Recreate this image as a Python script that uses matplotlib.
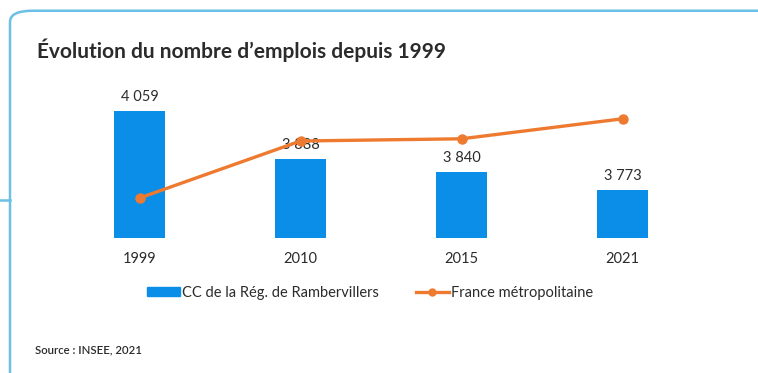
import matplotlib
matplotlib.use("Agg")
import matplotlib.pyplot as plt
from matplotlib.patches import FancyBboxPatch
from matplotlib.lines import Line2D

plt.rcParams['font.family'] = ['Lato', 'DejaVu Sans']

# Data
years = ["1999", "2010", "2015", "2021"]
emplois_cc = [4059, 3888, 3840, 3773]            # CC de la Rég. de Rambervillers
emplois_france = [22800, 25650, 25760, 26760]    # France métropolitaine (milliers)
value_labels = ["4 059", "3 888", "3 840", "3 773"]

series_cc = "CC de la Rég. de Rambervillers"
series_fr = "France métropolitaine"
title = "Évolution du nombre d\u2019emplois depuis 1999"
source = "Source : INSEE, 2021"

BLUE = "#0B8EE8"
ORANGE = "#EE7A30"
TEXT = "#2b2b2b"
FRAME = "#6CC0E5"

W, H = 758, 373
fig = plt.figure(figsize=(W / 100, H / 100), dpi=100)
fig.patch.set_facecolor("white")

def px(x0, y0, w, h):
    return [x0 / W, 1 - (y0 + h) / H, w / W, h / H]

# Card frame
frame = FancyBboxPatch((10 / W, -0.05), 1.2, (H - 10) / H + 0.05 - 0.002,
                       boxstyle="round,pad=0,rounding_size=0.03",
                       transform=fig.transFigure, fill=False,
                       edgecolor=FRAME, linewidth=1.8, zorder=0)
fig.patches.append(frame)
fig.lines.append(Line2D([0, 10 / W], [1 - 200 / H, 1 - 200 / H],
                        transform=fig.transFigure, color=FRAME, lw=1.8))

# Title
fig.text(37 / W, 1 - 50 / H, title, fontsize=15, fontweight="bold",
         color=TEXT, ha="left", va="center")

# Main axes
ax = fig.add_axes(px(59, 100, 644, 138))
x = list(range(len(years)))
ax.bar(x, emplois_cc, width=0.32, color=BLUE, zorder=2)
ax.set_xlim(-0.5, 3.5)
ax.set_ylim(3600, 4100)
for xi, v, lab in zip(x, emplois_cc, value_labels):
    ax.annotate(lab, (xi, v), xytext=(0, 10), textcoords="offset points",
                ha="center", va="center", fontsize=10.5, color=TEXT,
                annotation_clip=False, zorder=1)
ax.set_xticks(x)
ax.set_xticklabels(years, fontsize=10.5, color=TEXT)
ax.tick_params(axis="x", length=0, pad=10)
ax.set_yticks([])
for s in ax.spines.values():
    s.set_visible(False)
ax.patch.set_alpha(0)

# Secondary axis for the national series
ax2 = ax.twinx()
ax2.plot(x, emplois_france, color=ORANGE, lw=2.4, marker="o", ms=6.5,
         zorder=3)
ax2.set_ylim(20800, 27700)
ax2.set_yticks([])
for s in ax2.spines.values():
    s.set_visible(False)

# Legend
handles = [plt.Rectangle((0, 0), 1, 1, color=BLUE),
           Line2D([], [], color=ORANGE, lw=2.4, marker="o", ms=5)]
fig.legend(handles, [series_cc, series_fr], loc="center",
           bbox_to_anchor=(370 / W, 1 - 293 / H), ncol=2, frameon=False,
           fontsize=10.5, handlelength=2.3, handleheight=0.55,
           handletextpad=0.15, columnspacing=2.5, labelcolor=TEXT)

# Source
fig.text(35 / W, 1 - 350 / H, source, fontsize=8.2, fontweight="semibold",
         color=TEXT, ha="left", va="center")

fig.savefig("out.png", dpi=100, facecolor="white")
